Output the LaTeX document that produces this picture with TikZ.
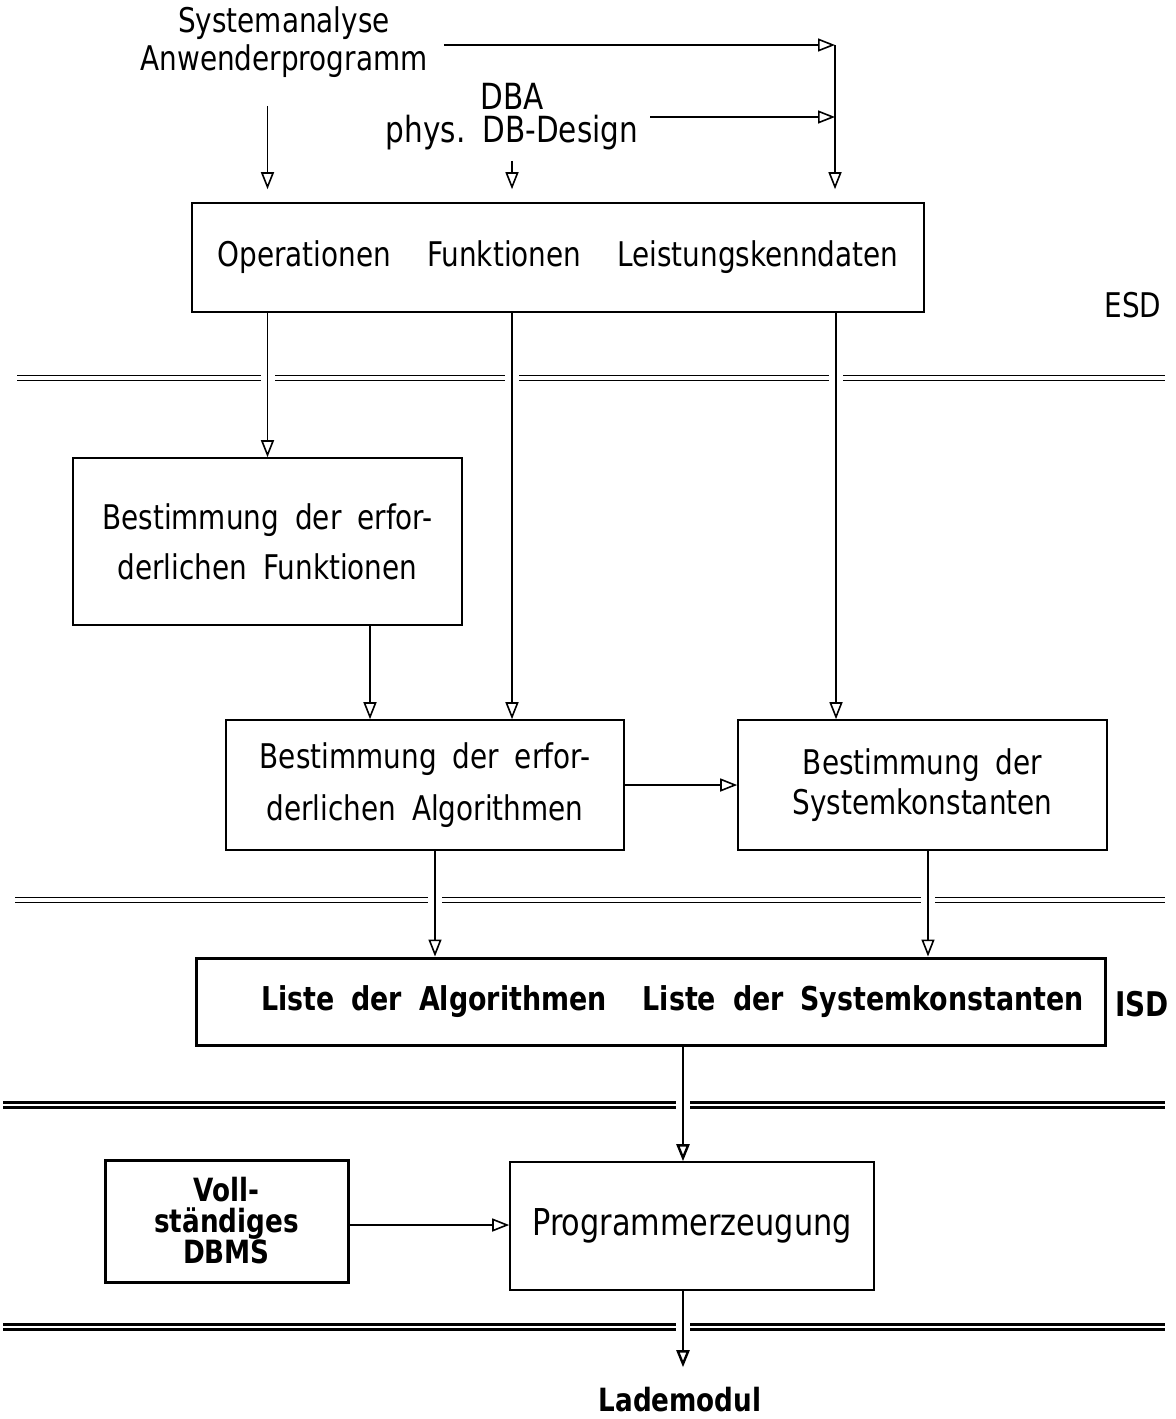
\documentclass[tikz,border=0pt]{standalone}
\usepackage{fontspec}
\setmainfont{DejaVu Sans}[FakeStretch=0.82, WordSpace=1.8]
\usetikzlibrary{arrows.meta}
\begin{document}
\begin{tikzpicture}[x=0.5pt,y=-0.5pt,
  every node/.style={font=\fontsize{17}{20}\selectfont, inner sep=0pt},
  box/.style={draw, line width=0.8pt, align=center},
  heavybox/.style={draw, line width=1.5pt, align=center, font=\fontsize{17}{20}\selectfont\bfseries},
  arr/.style={line width=0.8pt, -{Triangle[open, length=8.5pt, width=6.5pt]}},
  heavyarr/.style={line width=1.2pt, -{Triangle[open, length=8.5pt, width=6.5pt]}},
  sep/.style={double, double distance=1.6pt, line width=0.9pt},
  heavysep/.style={double, double distance=1.2pt, line width=1.4pt},
]
\useasboundingbox (0,0) rectangle (1175,1419);

% inputs
\node[align=center, font=\fontsize{17}{19}\selectfont] (sysan) at (284,42) {Systemanalyse\\Anwenderprogramm};
\node[align=center, font=\fontsize{18}{16.5}\selectfont] (dba) at (512,117) {DBA\\phys.\ DB-Design};

% external schema description
\node[box, minimum width=366pt, minimum height=54.5pt] (ops) at (558,257.5)
  {Operationen\hspace{18pt}Funktionen\hspace{18pt}Leistungskenndaten};
\node (esd) at (1133,305) {ESD};

% intermediate steps
\node[box, minimum width=194.5pt, minimum height=83.5pt] (func) at (267.5,541.5)
  {Bestimmung der erfor-\\[5pt]derlichen Funktionen};
\node[box, minimum width=199pt, minimum height=65pt] (algo) at (425,785)
  {Bestimmung der erfor-\\[6pt]derlichen Algorithmen};
\node[box, minimum width=184.5pt, minimum height=65pt] (const) at (922.5,785)
  {Bestimmung der\\Systemkonstanten};

% internal schema description
\node[heavybox, minimum width=454.5pt, minimum height=43.5pt, font=\fontsize{16.4}{20}\selectfont\bfseries] (list) at (650.5,1001.5)
  {\hspace*{22pt}Liste der Algorithmen\hspace{18pt}Liste der Systemkonstanten};
\node[font=\fontsize{17}{20}\selectfont\bfseries] (isd) at (1142,1004) {ISD};

% generation
\node[box, minimum width=182pt, minimum height=64pt, font=\fontsize{18.5}{22}\selectfont] (gen) at (692,1226) {Programmerzeugung};
\node[heavybox, minimum width=121.5pt, minimum height=61pt, font=\fontsize{16}{15.5}\selectfont\bfseries] (dbms) at (226.5,1221)
  {Voll-\\ständiges\\DBMS};
\node[font=\fontsize{16}{18}\selectfont\bfseries] (lade) at (680,1400) {Lademodul};

% column positions of the vertical connectors
\coordinate (jt) at (835,45);
\coordinate (cB) at (512,0);
\coordinate (cC) at (836,0);
\coordinate (cD) at (370,0);
\coordinate (cE) at (435,0);
\coordinate (cF) at (928,0);
\coordinate (cG) at (683,0);

% level separators
\draw[sep] (17,378) -- (261,378) (275,378) -- (505,378) (519,378) -- (829,378) (843,378) -- (1165,378);
\draw[sep] (15,900) -- (428,900) (442,900) -- (921,900) (935,900) -- (1165,900);
\draw[heavysep] (3,1105) -- (676,1105) (690,1105) -- (1165,1105);
\draw[heavysep] (3,1327) -- (676,1327) (690,1327) -- (1165,1327);

% connectors
\draw[arr] ([xshift=8pt]sysan.east |- jt) -- (jt);
\draw[arr] ([xshift=6pt]dba.east) -- (dba.east -| jt);
\draw[arr, shorten >=6.5pt] (jt) -- (ops.north -| jt);
\draw[arr, shorten <=14pt, shorten >=6.5pt] (sysan.south -| func.north) -- (ops.north -| func.north);
\draw[arr, shorten <=5pt, shorten >=6.5pt] (dba.south) -- (ops.north -| dba.south);

\draw[arr] (ops.south -| func.north) -- (func.north);
\draw[arr] (ops.south -| cB) -- (algo.north -| cB);
\draw[arr] (ops.south -| cC) -- (const.north -| cC);
\draw[arr] (func.south -| cD) -- (algo.north -| cD);
\draw[arr] (algo.east) -- (const.west);
\draw[arr] (algo.south -| cE) -- (list.north -| cE);
\draw[arr] (const.south -| cF) -- (list.north -| cF);
\draw[heavyarr] (list.south -| cG) -- (gen.north -| cG);
\draw[arr] ([yshift=-2pt]dbms.east) -- ([yshift=-2pt]dbms.east -| gen.west);
\draw[heavyarr, shorten >=10pt] (gen.south -| cG) -- (lade.north -| cG);
\end{tikzpicture}
\end{document}
